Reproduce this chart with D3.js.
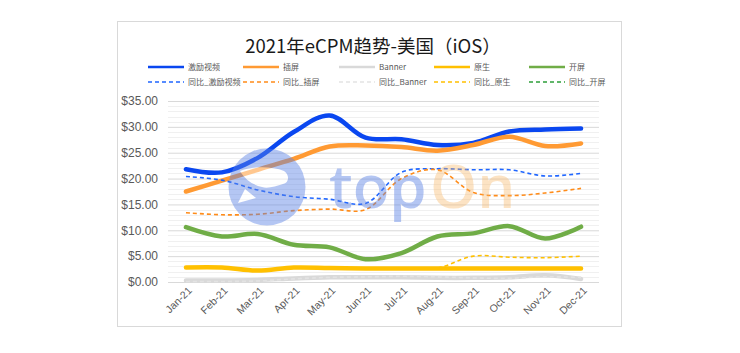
<!DOCTYPE html>
<html>
<head>
<meta charset="utf-8">
<script src="https://cdn.jsdelivr.net/npm/d3@7"></script>
<style>
  html, body { margin: 0; padding: 0; background: #fff; }
  svg { display: block; font-family: "Noto Sans CJK SC", "Noto Sans", sans-serif; }
</style>
</head>
<body>
<div id="chart"></div>
<script>
// 月份
const months = ['Jan-21', 'Feb-21', 'Mar-21', 'Apr-21', 'May-21', 'Jun-21',
                'Jul-21', 'Aug-21', 'Sep-21', 'Oct-21', 'Nov-21', 'Dec-21'];

// 各广告形式 eCPM（美元）
const rewardedVideo = [21.8, 21.2, 24.0, 29.0, 32.2, 27.9, 27.6, 26.5, 26.9, 29.1, 29.5, 29.7];
const interstitial  = [17.5, 19.6, 21.7, 23.8, 26.2, 26.4, 26.1, 25.4, 26.5, 28.1, 26.3, 26.8];
const banner        = [0.3, 0.3, 0.4, 0.7, 0.9, 0.9, 0.9, 0.8, 0.8, 0.9, 1.3, 0.6];
const nativeAd      = [2.8, 2.8, 2.2, 2.8, 2.7, 2.6, 2.6, 2.6, 2.6, 2.6, 2.6, 2.6];
const splash        = [10.6, 8.8, 9.3, 7.2, 6.7, 4.4, 5.6, 8.8, 9.4, 10.8, 8.4, 10.7];

// 同比数据
const yoyRewardedVideo = [20.4, 19.7, 17.8, 16.5, 16.0, 15.2, 21.2, 21.9, 21.7, 21.7, 20.5, 21.0];
const yoyInterstitial  = [13.4, 13.0, 13.1, 13.8, 14.1, 14.0, 20.0, 21.7, 17.3, 16.7, 17.2, 18.1];
const yoyBanner        = [0.1, 0.1, 0.2, 0.6, 0.9, 1.0, 1.1, 1.0, 0.8, 0.7, 1.0, 0.9];
const yoyNative        = [2.8, 2.8, 2.3, 2.8, 2.7, 2.6, 2.6, 2.7, 5.0, 4.8, 4.7, 5.0];
const yoySplash        = [];   // 图中未显示

const yTicks = [0, 5, 10, 15, 20, 25, 30, 35];

const series = [
  { name: '激励视频', values: rewardedVideo, color: '#0A47F0', dash: null, width: 4.5 },
  { name: '插屏', values: interstitial, color: '#FF9A33', dash: null, width: 4.5 },
  { name: 'Banner', values: banner, color: '#D9D9D9', dash: null, width: 4.5 },
  { name: '原生', values: nativeAd, color: '#FFC000', dash: null, width: 4.5 },
  { name: '开屏', values: splash, color: '#70AD47', dash: null, width: 4.5 },
  { name: '同比_激励视频', values: yoyRewardedVideo, color: '#1F66FF', dash: '4,3', width: 1.6 },
  { name: '同比_插屏', values: yoyInterstitial, color: '#FF8C1A', dash: '4,3', width: 1.6 },
  { name: '同比_Banner', values: yoyBanner, color: '#E3E3E3', dash: '4,3', width: 1.6 },
  { name: '同比_原生', values: yoyNative, color: '#FFC000', dash: '4,3', width: 1.6 },
  { name: '同比_开屏', values: yoySplash, color: '#2E9E3A', dash: '4,3', width: 1.6 }
];

const width = 740, height = 353;
const plot = { left: 168, right: 599, top: 101, bottom: 282 };

const svg = d3.select('#chart').append('svg')
  .attr('width', width)
  .attr('height', height);

// 外框
svg.append('rect')
  .attr('x', 117.5).attr('y', 21.5)
  .attr('width', 504).attr('height', 305)
  .attr('fill', '#fff')
  .attr('stroke', '#D9D9D9');

// 标题
svg.append('text')
  .attr('x', 373).attr('y', 53)
  .attr('text-anchor', 'middle')
  .attr('font-size', 18.5)
  .attr('fill', '#1a1a1a')
  .text('2021年eCPM趋势-美国（iOS）');

const x = d3.scalePoint()
  .domain(months)
  .range([plot.left, plot.right])
  .padding(0.5);

const y = d3.scaleLinear()
  .domain([0, 35])
  .range([plot.bottom, plot.top]);

// 次网格线
svg.append('g')
  .selectAll('line')
  .data(d3.range(0, 36, 1).filter(v => v % 5 !== 0))
  .join('line')
  .attr('x1', plot.left).attr('x2', plot.right)
  .attr('y1', d => Math.round(y(d)) + 0.5)
  .attr('y2', d => Math.round(y(d)) + 0.5)
  .attr('stroke', '#F0F0F0');

// 主网格线 + y 轴
const yAxis = svg.append('g')
  .attr('transform', `translate(${plot.left},0)`)
  .call(d3.axisLeft(y).tickValues(yTicks).tickSize(-(plot.right - plot.left))
    .tickFormat(d => '$' + d3.format('.2f')(d)));
yAxis.select('.domain').remove();
yAxis.selectAll('.tick line').attr('stroke', '#D9D9D9');
yAxis.selectAll('.tick text')
  .attr('x', -10)
  .attr('fill', '#595959')
  .attr('font-size', 12)
  .attr('font-family', '"Liberation Sans", Arial, sans-serif');

// x 轴标签
const xAxis = svg.append('g')
  .attr('transform', `translate(0,${plot.bottom})`)
  .call(d3.axisBottom(x).tickSize(0));
xAxis.select('.domain').remove();
xAxis.selectAll('.tick text')
  .attr('fill', '#595959')
  .attr('font-size', 10.5)
  .attr('font-family', '"Liberation Sans", Arial, sans-serif')
  .attr('text-anchor', 'end')
  .attr('dy', 0)
  .attr('transform', 'translate(4,7) rotate(-45)');

// 折线
const line = d3.line()
  .x((d, i) => x(months[i]))
  .y(d => y(d))
  .curve(d3.curveCatmullRom.alpha(0.5));

const lines = svg.append('g');
series.forEach(s => {
  if (!s.values.length) return;
  lines.append('path')
    .attr('d', line(s.values))
    .attr('fill', 'none')
    .attr('stroke', s.color)
    .attr('stroke-width', s.width)
    .attr('stroke-linecap', s.dash ? 'butt' : 'round')
    .attr('stroke-dasharray', s.dash);
});

// 水印 topOn
const wm = svg.append('g').attr('pointer-events', 'none');
const logo = wm.append('g').attr('opacity', 0.45);
logo.append('circle')
  .attr('cx', 267).attr('cy', 187).attr('r', 38.5)
  .attr('fill', '#5B82E6');
logo.append('path')
  .attr('d', 'M240,171 C252,166 272,166 284,171 C290,175 289,183 283,184 C276,186 268,189 262,187 C254,185 246,181 240,171 Z')
  .attr('fill', '#fff');
logo.append('path')
  .attr('d', 'M245,189 L256,198 L238,203 Z')
  .attr('fill', '#fff');
logo.append('text')
  .attr('x', 329).attr('y', 208)
  .attr('font-size', 60)
  .attr('font-weight', 600)
  .attr('font-family', '"Open Sans", "DejaVu Sans", sans-serif')
  .attr('fill', '#5B82E6')
  .text('top');
wm.append('text')
  .attr('x', 430).attr('y', 208)
  .attr('font-size', 60)
  .attr('font-weight', 600)
  .attr('font-family', '"Open Sans", "DejaVu Sans", sans-serif')
  .attr('fill', '#F9B766')
  .attr('opacity', 0.38)
  .text('On');

// 图例
const legendCols = [148, 243, 339, 434, 529];
const legendRows = [67, 82];
const legend = svg.append('g');
series.forEach((s, i) => {
  const lx = legendCols[i % 5];
  const ly = legendRows[Math.floor(i / 5)];
  legend.append('line')
    .attr('x1', lx).attr('x2', lx + 36)
    .attr('y1', ly).attr('y2', ly)
    .attr('stroke', s.color)
    .attr('stroke-width', s.dash ? 1.6 : 2.5)
    .attr('stroke-dasharray', s.dash);
  legend.append('text')
    .attr('x', lx + 40).attr('y', ly + 3)
    .attr('font-size', 8)
    .attr('fill', '#595959')
    .text(s.name);
});
</script>
</body>
</html>
